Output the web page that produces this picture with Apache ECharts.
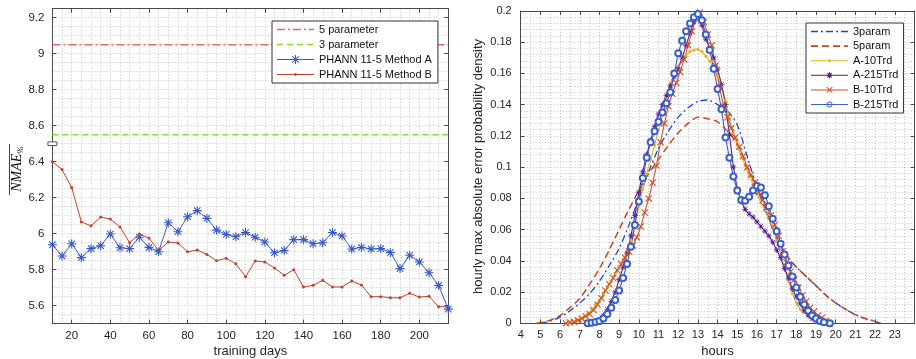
<!DOCTYPE html>
<html><head><meta charset="utf-8">
<script src="https://cdn.jsdelivr.net/npm/echarts@6/dist/echarts.min.js"></script>
<style>html,body{margin:0;padding:0;background:#fff;}#c{width:916px;height:359px;}</style>
</head><body><div id="c"></div>
<script>
// ---------- Left panel data ----------
const days = [10,15,20,25,30,35,40,45,50,55,60,65,70,75,80,85,90,95,100,105,110,115,120,125,130,135,140,145,150,155,160,165,170,175,180,185,190,195,200,205,210,215];
const methodA = [5.939,5.876,5.944,5.867,5.917,5.933,5.998,5.922,5.917,5.98,5.924,5.9,6.061,6.011,6.094,6.128,6.085,6.02,5.996,5.983,6.007,5.98,5.954,5.894,5.907,5.967,5.967,5.944,5.95,6.007,5.987,5.915,5.924,5.915,5.917,5.896,5.806,5.88,5.843,5.783,5.713,5.581];
const methodB = [6.4,6.356,6.256,6.065,6.044,6.093,6.081,6.037,5.95,5.998,5.976,5.907,5.954,5.948,5.9,5.909,5.885,5.85,5.863,5.833,5.761,5.848,5.843,5.809,5.769,5.8,5.704,5.713,5.741,5.704,5.704,5.737,5.715,5.65,5.65,5.644,5.644,5.669,5.648,5.652,5.594,5.594];
const param5Level = 9.05;
const param3Level = 8.55;
const leftXTicks = [20,40,60,80,100,120,140,160,180,200];
const leftYTicks = [5.6,5.8,6,6.2,6.4,8.6,8.8,9,9.2];
const breakLow = 6.5, breakHigh = 8.5;   // axis break: 6.5 | 8.5

// ---------- Right panel data ----------
const hourTicks = [4,5,6,7,8,9,10,11,12,13,14,15,16,17,18,19,20,21,22,23];
const densityTicks = [0,0.02,0.04,0.06,0.08,0.1,0.12,0.14,0.16,0.18,0.2];
const param3 = [[5.0,0],[5.5,0.0015],[6.0,0.004],[6.5,0.008],[7.0,0.013],[7.5,0.019],[8.0,0.027],[8.5,0.037],[9.0,0.048],[9.5,0.063],[10.0,0.080],[10.5,0.097],[11.0,0.112],[11.5,0.123],[12.0,0.132],[12.5,0.138],[13.0,0.142],[13.5,0.143],[14.0,0.140],[14.5,0.136],[15.0,0.127],[15.5,0.107],[16.0,0.087],[16.5,0.070],[17.0,0.054],[17.5,0.043],[18.0,0.036],[18.5,0.030],[19.0,0.024],[19.5,0.018],[20.0,0.013],[20.5,0.009],[21.0,0.0055],[21.5,0.003],[22.0,0.0012],[22.3,0]];
const param5 = [[4.8,0],[5.0,0.0005],[5.5,0.002],[6.0,0.005],[6.5,0.010],[7.0,0.016],[7.5,0.025],[8.0,0.035],[8.5,0.047],[9.0,0.060],[9.5,0.073],[10.0,0.085],[10.5,0.096],[11.0,0.105],[11.5,0.114],[12.0,0.122],[12.5,0.128],[13.0,0.132],[13.5,0.131],[14.0,0.129],[14.5,0.123],[15.0,0.115],[15.5,0.100],[16.0,0.087],[16.5,0.071],[17.0,0.055],[17.5,0.044],[18.0,0.036],[18.5,0.030],[19.0,0.024],[19.5,0.018],[20.0,0.013],[20.5,0.009],[21.0,0.0055],[21.5,0.003],[22.0,0.0012],[22.2,0]];
const a10Trd = [[6.4,0],[6.6,0.0005],[6.8,0.0012],[7.0,0.0025],[7.2,0.004],[7.4,0.006],[7.6,0.0085],[7.8,0.012],[8.0,0.015],[8.2,0.019],[8.4,0.023],[8.6,0.027],[8.8,0.032],[9.0,0.036],[9.2,0.041],[9.4,0.046],[9.6,0.053],[9.8,0.063],[10.0,0.075],[10.2,0.086],[10.4,0.096],[10.6,0.105],[10.8,0.114],[11.0,0.124],[11.2,0.134],[11.4,0.145],[11.6,0.154],[11.8,0.160],[12.0,0.165],[12.2,0.169],[12.4,0.172],[12.6,0.174],[12.8,0.175],[13.0,0.1755],[13.2,0.174],[13.4,0.171],[13.6,0.168],[13.8,0.163],[14.0,0.158],[14.2,0.152],[14.4,0.143],[14.6,0.131],[14.8,0.121],[15.0,0.114],[15.2,0.107],[15.4,0.101],[15.6,0.095],[15.8,0.089],[16.0,0.083],[16.2,0.077],[16.4,0.072],[16.6,0.067],[16.8,0.061],[17.0,0.053],[17.2,0.044],[17.4,0.035],[17.6,0.027],[17.8,0.019],[18.0,0.013],[18.2,0.009],[18.4,0.007],[18.6,0.005],[18.8,0.0035],[19.0,0.0025],[19.2,0.0015],[19.4,0.0008],[19.6,0]];
const a215Trd = [[7.35,0],[7.6,0.0005],[7.8,0.001],[8.0,0.002],[8.2,0.005],[8.4,0.009],[8.6,0.014],[8.8,0.020],[9.0,0.028],[9.2,0.036],[9.4,0.045],[9.6,0.056],[9.8,0.069],[10.0,0.084],[10.2,0.097],[10.4,0.108],[10.6,0.117],[10.8,0.126],[11.0,0.134],[11.2,0.140],[11.4,0.146],[11.6,0.152],[11.8,0.158],[12.0,0.163],[12.2,0.170],[12.4,0.178],[12.6,0.186],[12.8,0.193],[13.0,0.198],[13.2,0.191],[13.4,0.182],[13.6,0.176],[13.8,0.170],[14.0,0.163],[14.2,0.153],[14.4,0.140],[14.6,0.121],[14.8,0.100],[15.0,0.086],[15.2,0.078],[15.4,0.073],[15.6,0.070],[15.8,0.068],[16.0,0.065],[16.2,0.062],[16.4,0.059],[16.6,0.056],[16.8,0.052],[17.0,0.047],[17.2,0.042],[17.4,0.035],[17.6,0.029],[17.8,0.022],[18.0,0.017],[18.2,0.0125],[18.4,0.008],[18.6,0.005],[18.8,0.003],[19.0,0.0018],[19.2,0.001],[19.4,0.0004],[19.6,0]];
const b10Trd = [[6.3,0],[6.5,0.0005],[6.7,0.001],[6.9,0.002],[7.1,0.003],[7.3,0.0045],[7.5,0.006],[7.7,0.0085],[7.9,0.012],[8.1,0.016],[8.3,0.021],[8.5,0.025],[8.7,0.029],[8.9,0.034],[9.1,0.038],[9.3,0.042],[9.5,0.046],[9.7,0.050],[9.9,0.055],[10.1,0.062],[10.3,0.071],[10.5,0.080],[10.7,0.090],[10.9,0.101],[11.1,0.116],[11.3,0.128],[11.5,0.139],[11.7,0.147],[11.9,0.154],[12.1,0.161],[12.3,0.169],[12.5,0.178],[12.7,0.187],[12.9,0.195],[13.1,0.199],[13.3,0.193],[13.5,0.185],[13.7,0.178],[13.9,0.165],[14.1,0.151],[14.3,0.139],[14.5,0.132],[14.7,0.125],[14.9,0.119],[15.1,0.113],[15.3,0.107],[15.5,0.100],[15.7,0.095],[15.9,0.090],[16.1,0.084],[16.3,0.079],[16.5,0.074],[16.7,0.069],[16.9,0.063],[17.1,0.056],[17.3,0.046],[17.5,0.039],[17.7,0.033],[17.9,0.028],[18.1,0.023],[18.3,0.018],[18.5,0.014],[18.7,0.010],[18.9,0.0075],[19.1,0.005],[19.3,0.0035],[19.5,0.0015],[19.7,0]];
const b215Trd = [[7.4,0],[7.6,0.0003],[7.8,0.0008],[8.0,0.0015],[8.2,0.003],[8.4,0.006],[8.6,0.010],[8.8,0.015],[9.0,0.021],[9.2,0.029],[9.4,0.038],[9.6,0.049],[9.8,0.063],[10.0,0.078],[10.2,0.093],[10.4,0.106],[10.6,0.116],[10.8,0.123],[11.0,0.129],[11.2,0.135],[11.4,0.141],[11.6,0.148],[11.8,0.160],[12.0,0.173],[12.2,0.181],[12.4,0.187],[12.6,0.192],[12.8,0.196],[13.0,0.198],[13.2,0.194],[13.4,0.185],[13.6,0.175],[13.8,0.163],[14.0,0.150],[14.2,0.137],[14.4,0.119],[14.6,0.106],[14.8,0.094],[15.0,0.085],[15.2,0.079],[15.4,0.0785],[15.6,0.081],[15.8,0.085],[16.0,0.088],[16.2,0.087],[16.4,0.082],[16.6,0.075],[16.8,0.067],[17.0,0.059],[17.2,0.051],[17.4,0.044],[17.6,0.037],[17.8,0.030],[18.0,0.023],[18.2,0.017],[18.4,0.012],[18.6,0.008],[18.8,0.005],[19.0,0.003],[19.2,0.0015],[19.4,0.0006],[19.7,0]];

// ---------- helpers ----------
const disp = v => (v >= breakHigh ? v - (breakHigh - breakLow) : v);   // broken-axis mapping
const undisp = d => (d > breakLow ? d + (breakHigh - breakLow) : d);
const FONT = 'Liberation Sans';
const TXT = '#262626';
const FRAME = '#4a4a4a';
const GRIDC = '#c4c4c4';

// marker / legend-icon path builders (positive winding everywhere)
const f = n => n.toFixed(3);
function poly(pts) { return 'M' + pts.map(p => f(p[0]) + ' ' + f(p[1])).join('L') + 'Z'; }
function bar(cx, cy, len, t, ang) {
  const dx = Math.cos(ang), dy = Math.sin(ang), nx = -dy * t, ny = dx * t;
  const ax = cx - dx * len / 2, ay = cy - dy * len / 2, bx = cx + dx * len / 2, by = cy + dy * len / 2;
  return poly([[ax - nx, ay - ny], [bx - nx, by - ny], [bx + nx, by + ny], [ax + nx, ay + ny]]);
}
function ngon(cx, cy, r, n, rev) {
  const pts = [];
  for (let i = 0; i < n; i++) { const a = 2 * Math.PI * i / n; pts.push([cx + r * Math.cos(a), cy + r * Math.sin(a)]); }
  if (rev) pts.reverse();
  return poly(pts);
}
function aster(cx, cy, s, t) { return [0, Math.PI / 2, Math.PI / 4, 3 * Math.PI / 4].map(a => bar(cx, cy, s, t, a)).join(' '); }
function xmark(cx, cy, s, t) { return [Math.PI / 4, 3 * Math.PI / 4].map(a => bar(cx, cy, s, t, a)).join(' '); }
function ring(cx, cy, r, w) { return ngon(cx, cy, r, 18, false) + ' ' + ngon(cx, cy, r - w, 18, true); }
const IW = 37, IC = 5;
function solid(w) { return poly([[0, IC - w / 2], [IW, IC - w / 2], [IW, IC + w / 2], [0, IC + w / 2]]); }
function dashed(pattern, w) {
  let s = '', x = 0, i = 0;
  while (x < IW) {
    const len = pattern[i % pattern.length];
    if (i % 2 === 0) { const x1 = Math.min(IW, x + len); s += poly([[x, IC - w / 2], [x1, IC - w / 2], [x1, IC + w / 2], [x, IC + w / 2]]) + ' '; }
    x += len; i++;
  }
  s += poly([[IW - 0.02, IC - 0.01], [IW, IC - 0.01], [IW, IC + 0.01], [IW - 0.02, IC + 0.01]]);
  return 'path://' + s;
}
const ASTER = 'path://' + aster(10, 10, 20, 1.2);
const XMARK = 'path://' + xmark(10, 10, 20, 1.3);
const mid = IW / 2;

const G0 = {left: 52.4, top: 8.7, width: 395.9, height: 315};
const G1 = {left: 520.7, top: 11, width: 393.8, height: 312.3};

function labelAxis(gi, min, max, ticks, pos, fmt, fs, margin) {
  return {type:'value', gridIndex: gi, min, max, position: pos,
    axisLine:{show:true, onZero:false, lineStyle:{color:FRAME, width:1}},
    axisTick:{show:true, inside:true, length:4, customValues: ticks, lineStyle:{color:FRAME}},
    axisLabel:{show:true, customValues: ticks, formatter: fmt, color: TXT, fontFamily: FONT, fontSize: fs, margin: margin},
    splitLine:{show:false}};
}
function mirrorAxis(gi, min, max, ticks, pos) {
  return {type:'value', gridIndex: gi, min, max, position: pos,
    axisLine:{show:true, onZero:false, lineStyle:{color:FRAME, width:1}},
    axisTick:{show:true, inside:true, length:4, customValues: ticks, lineStyle:{color:FRAME}},
    axisLabel:{show:false}, splitLine:{show:false}};
}
function gridAxis(gi, min, max, interval, pos) {
  return {type:'value', gridIndex: gi, min, max, interval, position: pos,
    axisLine:{show:false, onZero:false}, axisTick:{show:false}, axisLabel:{show:false},
    splitLine:{show:true, lineStyle:{color:GRIDC, width:1, type:[1,2]}}};
}

const yMinL = 5.5, yMaxL = disp(9.25);
const fmtL = v => String(Math.round(undisp(v) * 10) / 10);
const fmtR = v => String(Math.round(v * 100) / 100);

const legendCommon = {orient:'vertical', itemWidth: IW, itemHeight: 10,
  borderColor:'#333', borderWidth:1, backgroundColor:'#fff',
  itemStyle:{borderWidth:0}, lineStyle:{width:0},
  textStyle:{fontFamily:FONT, fontSize:11, color:'#111'}};

const chart = echarts.init(document.getElementById('c'), null, {renderer:'canvas'});
const option = {
  animation: false,
  backgroundColor: '#fff',
  grid: [G0, G1],
  xAxis: [
    labelAxis(0, days[0], days[days.length-1], leftXTicks, 'bottom', v => String(v), 11.5, 6),
    mirrorAxis(0, days[0], days[days.length-1], leftXTicks, 'top'),
    gridAxis(0, days[0], days[days.length-1], 5, 'bottom'),
    labelAxis(1, 4, 24, hourTicks, 'bottom', v => String(v), 11, 6),
    mirrorAxis(1, 4, 24, hourTicks, 'top'),
    gridAxis(1, 4, 24, 0.5, 'bottom')
  ],
  yAxis: [
    labelAxis(0, yMinL, yMaxL, leftYTicks.map(disp), 'left', fmtL, 11.5, 8),
    mirrorAxis(0, yMinL, yMaxL, leftYTicks.map(disp), 'right'),
    gridAxis(0, yMinL, yMaxL, 0.05, 'left'),
    labelAxis(1, 0, 0.2, densityTicks, 'left', fmtR, 11, 9),
    mirrorAxis(1, 0, 0.2, densityTicks, 'right'),
    gridAxis(1, 0, 0.2, 0.004, 'left')
  ],
  legend: [
    Object.assign({}, legendCommon, {left: 272, top: 21, itemGap: 4, padding:[3,6,3,5],
     data:[
       {name:'5 parameter', icon: dashed([8,3,2,3], 1.4)},
       {name:'3 parameter', icon: dashed([6,4], 1.4)},
       {name:'PHANN 11-5 Method A', icon: 'path://' + solid(1) + ' ' + aster(mid, IC, 9, 0.5)},
       {name:'PHANN 11-5 Method B', icon: 'path://' + solid(1) + ' ' + ngon(mid, IC, 1.5, 8)}
     ]}),
    Object.assign({}, legendCommon, {left: 806, top: 23, itemGap: 3.6, padding:[3,5,3,5],
     data:[
       {name:'3param', icon: dashed([7,3,2,3], 1.3)},
       {name:'5param', icon: dashed([7,4], 1.6)},
       {name:'A-10Trd', icon: 'path://' + solid(1) + ' ' + ngon(mid, IC, 1.5, 8)},
       {name:'A-215Trd', icon: 'path://' + solid(1) + ' ' + aster(mid, IC, 6, 0.6)},
       {name:'B-10Trd', icon: 'path://' + solid(1) + ' ' + xmark(mid, IC, 8, 0.5)},
       {name:'B-215Trd', icon: 'path://' + solid(1) + ' ' + ring(mid, IC, 3, 0.9)}
     ]})
  ],
  series: [
    {name:'5 parameter', type:'line', xAxisIndex:0, yAxisIndex:0, symbol:'none',
     data:[[days[0], disp(param5Level)], [days[days.length-1], disp(param5Level)]],
     lineStyle:{color:'#e46a6a', width:1.4, type:[8,3,2,3]}, itemStyle:{color:'#e46a6a'}},
    {name:'3 parameter', type:'line', xAxisIndex:0, yAxisIndex:0, symbol:'none',
     data:[[days[0], disp(param3Level)], [days[days.length-1], disp(param3Level)]],
     lineStyle:{color:'#86e02a', width:1.4, type:[6,4]}, itemStyle:{color:'#86e02a'}},
    {name:'PHANN 11-5 Method B', type:'line', xAxisIndex:0, yAxisIndex:0,
     data: days.map((d,i)=>[d, disp(methodB[i])]), symbol:'circle', symbolSize:3,
     lineStyle:{color:'#c2402c', width:1}, itemStyle:{color:'#c2402c'}},
    {name:'PHANN 11-5 Method A', type:'line', xAxisIndex:0, yAxisIndex:0,
     data: days.map((d,i)=>[d, disp(methodA[i])]), symbol: ASTER, symbolSize:9,
     lineStyle:{color:'#3a58c8', width:1}, itemStyle:{color:'#3a58c8'}},

    {name:'3param', type:'line', xAxisIndex:3, yAxisIndex:3, symbol:'none', smooth:0.3,
     data: param3, lineStyle:{color:'#2244cc', width:1.3, type:[7,3,2,3]}, itemStyle:{color:'#2244cc'}},
    {name:'5param', type:'line', xAxisIndex:3, yAxisIndex:3, symbol:'none', smooth:0.3,
     data: param5, lineStyle:{color:'#c8471e', width:1.5, type:[7,4]}, itemStyle:{color:'#c8471e'}},
    {name:'A-10Trd', type:'line', xAxisIndex:3, yAxisIndex:3, symbol:'circle', symbolSize:3,
     data: a10Trd, lineStyle:{color:'#e8b020', width:1.1}, itemStyle:{color:'#e8b020'}},
    {name:'A-215Trd', type:'line', xAxisIndex:3, yAxisIndex:3, symbol: ASTER, symbolSize:6,
     data: a215Trd, lineStyle:{color:'#5a1f8c', width:1.1}, itemStyle:{color:'#5a1f8c'}},
    {name:'B-10Trd', type:'line', xAxisIndex:3, yAxisIndex:3, symbol: XMARK, symbolSize:7,
     data: b10Trd, lineStyle:{color:'#cf5228', width:1.1}, itemStyle:{color:'#cf5228'}},
    {name:'B-215Trd', type:'line', xAxisIndex:3, yAxisIndex:3, symbol:'emptyCircle', symbolSize:6,
     data: b215Trd, lineStyle:{color:'#3a60d0', width:1.1}, itemStyle:{color:'#3a60d0', borderWidth:1}}
  ]
};
chart.setOption(option);

// axis titles and axis-break marker
const brk = chart.convertToPixel({gridIndex:0}, [days[0], breakLow]);
chart.setOption({graphic: [
  {type:'text', x: 250.4, y: 351, style:{text:'training days', fontFamily:FONT, fontSize:13, fill:TXT, align:'center', verticalAlign:'middle'}},
  {type:'text', x: 717.6, y: 351.5, style:{text:'hours', fontFamily:FONT, fontSize:13, fill:TXT, align:'center', verticalAlign:'middle'}},
  {type:'text', x: 478, y: 166.5, rotation: Math.PI/2, style:{text:'hourly max absolute error probability density', fontFamily:FONT, fontSize:13, fill:TXT, align:'center', verticalAlign:'middle'}},
  {type:'text', x: 17, y: 169, rotation: Math.PI/2, style:{
     text:'{a|NMAE}{b|%}', align:'center', verticalAlign:'middle',
     rich:{a:{fontFamily:'Liberation Serif', fontStyle:'italic', fontSize:14, fill:'#111', lineHeight:16},
           b:{fontFamily:'Liberation Serif', fontStyle:'italic', fontSize:9, fill:'#111', padding:[7,0,0,0], lineHeight:16}}}},
  {type:'line', shape:{x1:9.5, y1:144, x2:9.5, y2:195}, style:{stroke:'#111', lineWidth:0.8}},
  {type:'rect', shape:{x: brk[0]-4.5, y: brk[1]-1.8, width: 9, height: 3.6}, style:{fill:'#fff', stroke:'#555', lineWidth:1}, z: 100}
]});
</script></body></html>
